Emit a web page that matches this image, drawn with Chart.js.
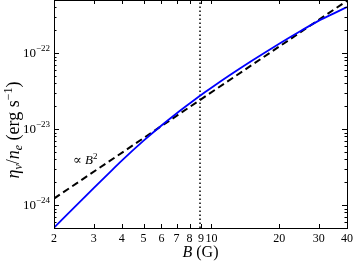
<!DOCTYPE html>
<html>
<head>
<meta charset="UTF-8">
<title>eta_nu / n_e vs B</title>
<script src="https://cdn.jsdelivr.net/npm/chart.js"></script>
<style>
    html, body { margin: 0; padding: 0; background: #fff; }
    #wrap { width: 357px; height: 263px; }
</style>
</head>
<body>
<div id="wrap"><canvas id="c"></canvas></div>
<script>
// magnetic field B (G) and emissivity per electron (erg s^-1)
const bValues = [2, 2.5, 3, 3.5, 4, 5, 6, 7, 8, 9, 10, 12, 15, 20, 25, 30, 35, 40];
const etaValues = [5.05e-25, 9.75e-25, 1.67e-24, 2.62e-24, 3.85e-24, 7.05e-24, 1.117e-23, 1.607e-23,
                   2.17e-23, 2.81e-23, 3.5e-23, 5.06e-23, 7.8e-23, 1.33e-22, 1.97e-22, 2.68e-22,
                   3.34e-22, 4.05e-22];
// dashed reference line proportional to B^2
const powB = [2, 40];
const powEta = [1.22e-24, 4.88e-22];
// vertical dotted marker
const markerB = 8.9;
const yMin = 5e-25, yMax = 5e-22;
const xTicks = [2, 3, 4, 5, 6, 7, 8, 9, 10, 20, 30, 40];
const yDecades = [-24, -23, -22];
const annotation = { b: 2.75, eta: 3.9e-24 };

const serif = '"Liberation Serif", "DejaVu Serif", serif';

function drawRuns(ctx, runs, x, y, align) {
    let total = 0;
    runs.forEach(r => { ctx.font = r.font; total += ctx.measureText(r.t).width; });
    let cx = align === 'center' ? x - total / 2 : (align === 'right' ? x - total : x);
    runs.forEach(r => {
        ctx.font = r.font;
        ctx.fillText(r.t, cx, y + (r.dy || 0));
        cx += ctx.measureText(r.t).width;
    });
}

const framePlugin = {
    id: 'frame',
    afterDraw(chart) {
        const ctx = chart.ctx;
        const a = chart.chartArea;
        const xs = chart.scales.x, ys = chart.scales.y;
        ctx.save();
        ctx.strokeStyle = '#000';
        ctx.fillStyle = '#000';
        ctx.lineWidth = 1;
        ctx.strokeRect(a.left + 0.5, a.top + 0.5, a.right - a.left, a.bottom - a.top);

        // x ticks, inward on bottom and top
        ctx.beginPath();
        xTicks.forEach(v => {
            const px = Math.round(xs.getPixelForValue(v)) + 0.5;
            ctx.moveTo(px, a.bottom); ctx.lineTo(px, a.bottom - 4);
            ctx.moveTo(px, a.top); ctx.lineTo(px, a.top + 4);
        });
        // y ticks, major and minor, left and right
        for (let d = -25; d <= -22; d++) {
            for (let m = 1; m <= 9; m++) {
                const v = m * Math.pow(10, d);
                if (v < yMin || v > yMax) continue;
                const py = Math.round(ys.getPixelForValue(v)) + 0.5;
                const len = m === 1 ? 5 : 2.5;
                ctx.moveTo(a.left, py); ctx.lineTo(a.left + len, py);
                ctx.moveTo(a.right, py); ctx.lineTo(a.right - len, py);
            }
        }
        ctx.stroke();

        // y tick labels 10^n
        ctx.textBaseline = 'alphabetic';
        yDecades.forEach(d => {
            const py = ys.getPixelForValue(Math.pow(10, d));
            drawRuns(ctx, [
                { t: '10', font: '13px ' + serif, dy: 4 },
                { t: '\u2212' + (-d), font: '9px ' + serif, dy: -2 }
            ], a.left - 4, py, 'right');
        });

        // y axis title
        ctx.save();
        ctx.translate(14, 130);
        ctx.rotate(-Math.PI / 2);
        drawRuns(ctx, [
            { t: '\u03b7', font: 'italic 18px ' + serif },
            { t: '\u03bd', font: 'italic 12px ' + serif, dy: 3 },
            { t: '/', font: '18px ' + serif },
            { t: 'n', font: 'italic 18px ' + serif },
            { t: 'e', font: 'italic 12px ' + serif, dy: 3 },
            { t: ' (erg s', font: '18px ' + serif },
            { t: '\u22121', font: '12px ' + serif, dy: -7 },
            { t: ')', font: '18px ' + serif }
        ], 0, 5, 'center');
        ctx.restore();

        // x axis title
        drawRuns(ctx, [
            { t: 'B', font: 'italic 16px ' + serif },
            { t: ' (G)', font: '16px ' + serif }
        ], (a.left + a.right) / 2, 257, 'center');

        // proportionality label
        drawRuns(ctx, [
            { t: '\u221d ', font: '13px ' + serif },
            { t: 'B', font: 'italic 13px ' + serif },
            { t: '2', font: '9px ' + serif, dy: -5 }
        ], xs.getPixelForValue(annotation.b), ys.getPixelForValue(annotation.eta) + 4, 'center');
        ctx.restore();
    }
};

new Chart(document.getElementById('c'), {
    type: 'line',
    data: {
        datasets: [{
            data: bValues.map((b, i) => ({ x: b, y: etaValues[i] })),
            borderColor: '#0000ff',
            borderWidth: 1.8,
            pointRadius: 0,
            cubicInterpolationMode: 'monotone',
            fill: false
        }, {
            data: powB.map((b, i) => ({ x: b, y: powEta[i] })),
            borderColor: '#000',
            borderWidth: 2,
            borderDash: [7, 4],
            pointRadius: 0,
            fill: false
        }, {
            data: [{ x: markerB, y: yMin }, { x: markerB, y: yMax }],
            borderColor: '#000',
            borderWidth: 1.5,
            borderDash: [1.5, 2.5],
            pointRadius: 0,
            fill: false
        }]
    },
    options: {
        responsive: true,
        maintainAspectRatio: false,
        animation: false,
        layout: { padding: { top: 0, right: 5, left: 0, bottom: 0 } },
        plugins: { legend: { display: false }, tooltip: { enabled: false } },
        scales: {
            x: {
                type: 'logarithmic',
                min: 2,
                max: 40,
                afterBuildTicks: s => { s.ticks = xTicks.map(v => ({ value: v })); },
                afterFit: s => { s.height = 35; },
                grid: { display: false, drawTicks: false },
                border: { display: false },
                ticks: {
                    autoSkip: false,
                    maxRotation: 0,
                    padding: 4,
                    color: '#000',
                    font: { family: serif, size: 12 },
                    callback: v => String(v)
                }
            },
            y: {
                type: 'logarithmic',
                min: yMin,
                max: yMax,
                afterFit: s => { s.width = 54; },
                grid: { display: false, drawTicks: false },
                border: { display: false },
                ticks: { display: false }
            }
        }
    },
    plugins: [framePlugin]
});
</script>
</body>
</html>
